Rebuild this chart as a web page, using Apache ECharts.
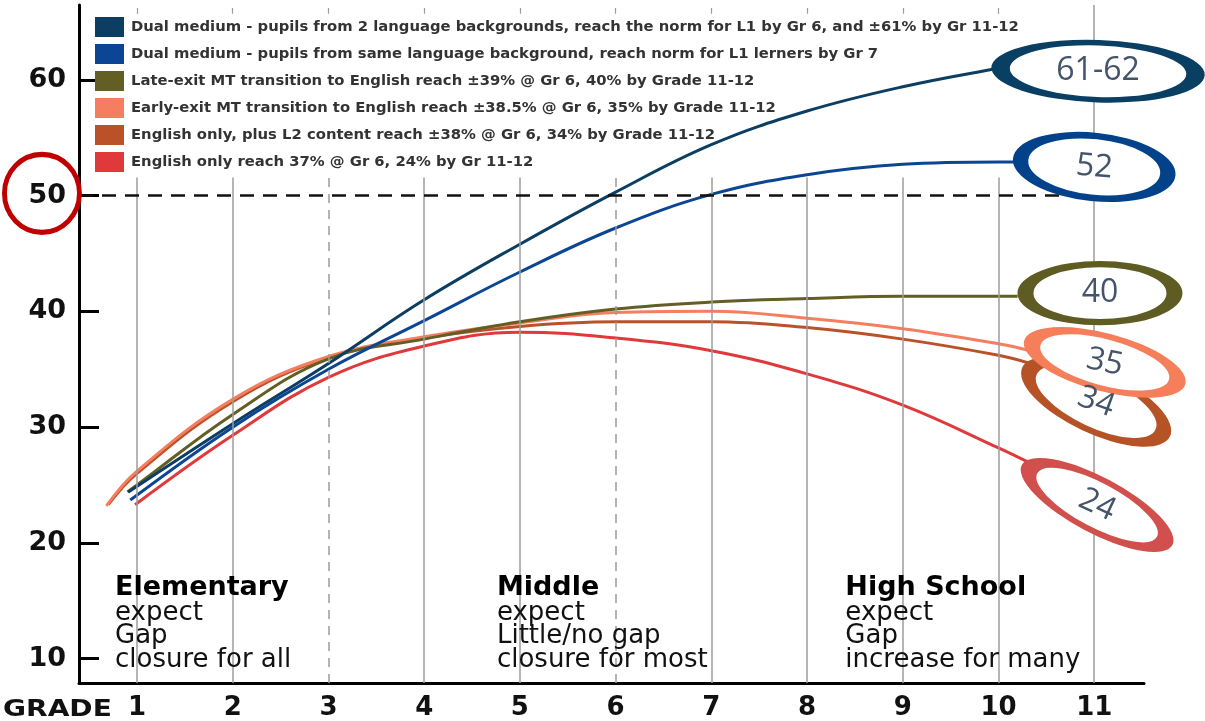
<!DOCTYPE html>
<html>
<head>
<meta charset="utf-8">
<script src="https://cdn.jsdelivr.net/npm/echarts@6/dist/echarts.min.js"></script>
<style>
html,body{margin:0;padding:0;background:#ffffff;}
#chart{width:1205px;height:721px;}
</style>
</head>
<body>
<div id="chart"></div>
<script>
// ---------- data ----------
const seriesNames = [
  'Dual medium - pupils from 2 language backgrounds, reach the norm for L1 by Gr 6, and \u00b161% by Gr 11-12',
  'Dual medium - pupils from same language background, reach norm for L1 lerners by Gr 7',
  'Late-exit MT transition to English reach \u00b139% @ Gr 6, 40% by Grade 11-12',
  'Early-exit MT transition to English reach \u00b138.5% @ Gr 6, 35% by Grade 11-12',
  'English only, plus L2 content reach \u00b138% @ Gr 6, 34% by Grade 11-12',
  'English only reach 37% @ Gr 6, 24% by Gr 11-12'
];
const dualTwoLang = [[0.91,24.4],[2,30.3],[3,35.5],[4,41.0],[5,45.8],[6,50.3],[7,54.4],[8,57.3],[9,59.4],[10,61.0],[10.1,61.1]];
const dualSameLang = [[0.93,23.7],[2,30.0],[3,35.0],[4,39.2],[5,43.4],[6,47.2],[7,50.1],[8,51.8],[9,52.7],[10,52.9],[10.17,52.9]];
const lateExit = [[0.9,24.4],[1,25.0],[2,31.1],[3,35.9],[4,37.6],[5,39.1],[6,40.2],[7,40.8],[8,41.1],[9,41.3],[10,41.3],[10.2,41.3]];
const earlyExit = [[0.68,23.2],[1,26.2],[2,32.4],[3,36.1],[4,37.8],[5,39.0],[6,39.9],[7,40.0],[8,39.4],[9,38.5],[10,37.2],[10.33,36.6]];
const englishPlusL2 = [[0.7,23.3],[1,26.0],[2,32.2],[3,36.0],[4,37.7],[5,38.7],[6,39.1],[7,39.1],[8,38.6],[9,37.6],[10,36.2],[10.33,35.5]];
const englishOnly = [[0.98,23.3],[2,29.3],[3,34.3],[4,37.0],[5,38.2],[6,37.7],[7,36.6],[8,34.6],[9,31.9],[10,28.2],[10.4,26.6]];

const gradeTicks = [1,2,3,4,5,6,7,8,9,10,11];
const dashedGrades = [3,6];
const yTicks = [10,20,30,40,50,60];
const normLevel = 50;

const calloutText = ['61-62','52','40','34','35','24'];
const calloutAnchor = [[11.04,60.74],[11.0,52.47],[11.06,41.57],[11.02,32.18],[11.11,35.59],[11.03,23.27]];
const normCircleAnchor = [0.007,50.19];

const bandTitles = ['Elementary','Middle','High School'];
const bandLines = [
  ['expect','Gap','closure for all'],
  ['expect','Little/no gap','closure for most'],
  ['expect','Gap','increase for many']
];
const bandAnchor = [[0.77,17.2],[4.76,17.2],[8.40,17.2]];

// ---------- styles ----------
const X_MIN = 0.394, X_MAX = 11.52, Y_MIN = 7.9, Y_MAX = 66.46;
const LINE_TOP = 51.57;
const lineColors = ['#0b3e62','#0c4594','#625e24','#f47e5f','#bb5128','#e0393b'];
const seriesData = [dualTwoLang, dualSameLang, lateExit, earlyExit, englishPlusL2, englishOnly];
const calloutStyle = [
  {size:[195,57], rot:-2,  color:'#083f63', trot:0},
  {size:[148,62], rot:-6,  color:'#02428a', trot:-5},
  {size:[149,58], rot:0,   color:'#5e5c22', trot:0},
  {size:[147,57], rot:-25, color:'#b55326', trot:-20},
  {size:[150,52], rot:-15, color:'#f47f5a', trot:-12},
  {size:[153,50], rot:-28, color:'#d1504d', trot:-25}
];

const gridMarks = [];
gradeTicks.forEach(g => {
  const dashed = dashedGrades.indexOf(g) >= 0;
  const ls = {color:'#9c9c9c', width:1.5, type: dashed ? [9,7] : 'solid'};
  gridMarks.push([{coord:[g, Y_MIN], lineStyle: ls}, {coord:[g, g === 11 ? Y_MAX : LINE_TOP]}]);
  if (g !== 11) {
    gridMarks.push([{coord:[g, 66.2], lineStyle: {color:'#9c9c9c', width:1.2, type:'solid'}}, {coord:[g, 65.7]}]);
  }
});
gridMarks.push({yAxis: normLevel, lineStyle:{color:'#111', width:2.5, type:[14,9]}});

const lineSeries = seriesNames.map((name, i) => ({
  name: name,
  type: 'line',
  data: seriesData[i],
  smooth: 0.4,
  symbol: 'none',
  color: lineColors[i],
  lineStyle: {width: 3, color: lineColors[i]},
  z: 3,
  silent: true
}));

const calloutSeries = {
  type: 'scatter',
  name: 'callouts',
  clip: false,
  silent: true,
  z: 10,
  data: calloutText.map((t, i) => ({
    value: calloutAnchor[i],
    symbol: 'circle',
    symbolSize: calloutStyle[i].size,
    symbolRotate: calloutStyle[i].rot,
    itemStyle: {color:'#ffffff', borderColor: calloutStyle[i].color, borderWidth: 10, opacity: 1},
    label: {
      show: true, position: 'inside', formatter: t, rotate: calloutStyle[i].trot,
      color: '#44546a', fontFamily: 'Open Sans', fontSize: 32, opacity: 1
    }
  }))
};

const normCircle = {
  type: 'scatter',
  name: 'normcircle',
  clip: false,
  silent: true,
  z: 11,
  data: [{
    value: normCircleAnchor,
    symbol: 'circle',
    symbolSize: [75, 78],
    itemStyle: {color:'rgba(255,255,255,0)', borderColor:'#c00000', borderWidth:5, opacity: 1}
  }]
};

const bandSeries = {
  type: 'scatter',
  name: 'bands',
  clip: false,
  silent: true,
  z: 6,
  symbolSize: 0,
  itemStyle: {opacity: 1},
  data: bandTitles.map((t, i) => ({
    value: bandAnchor[i],
    label: {
      show: true,
      position: [0, 0],
      align: 'left',
      verticalAlign: 'top',
      opacity: 1,
      formatter: '{t|' + t + '}\n' + bandLines[i].map(s => '{n|' + s + '}').join('\n'),
      rich: {
        t: {fontFamily:'DejaVu Sans', fontWeight:'bold', fontSize:27, lineHeight:26, color:'#000'},
        n: {fontFamily:'DejaVu Sans', fontSize:26, lineHeight:23.5, color:'#111'}
      }
    }
  }))
};

const gridSeries = {
  type: 'line',
  name: 'gridlines',
  data: [],
  silent: true,
  z: 1,
  markLine: {silent: true, symbol: 'none', label: {show: false}, animation: false, data: gridMarks}
};

const chart = echarts.init(document.getElementById('chart'));
chart.setOption({
  animation: false,
  backgroundColor: '#ffffff',
  grid: {left: 79, right: 61, top: 5, bottom: 36},
  legend: {
    data: seriesNames,
    orient: 'vertical',
    left: 90, top: 12,
    icon: 'rect',
    itemWidth: 29, itemHeight: 20, itemGap: 7,
    selectedMode: false,
    textStyle: {fontFamily:'DejaVu Sans', fontWeight:'bold', fontSize:14.8, color:'#333', padding:[0,0,0,2]}
  },
  xAxis: {
    type: 'value', min: X_MIN, max: X_MAX,
    splitLine: {show: false},
    axisTick: {show: false},
    axisLine: {show: true, lineStyle: {color:'#000', width: 3}},
    axisLabel: {
      customValues: gradeTicks, margin: 12,
      fontFamily:'DejaVu Sans', fontWeight:'bold', fontSize:26, color:'#111',
      formatter: v => String(v)
    }
  },
  yAxis: {
    type: 'value', min: Y_MIN, max: Y_MAX,
    splitLine: {show: false},
    axisLine: {show: true, lineStyle: {color:'#000', width: 3}},
    axisTick: {show: true, inside: true, length: 20, customValues: yTicks, lineStyle: {color:'#000', width: 3}},
    axisLabel: {
      customValues: yTicks, margin: 13,
      fontFamily:'DejaVu Sans', fontWeight:'bold', fontSize:27, color:'#111',
      formatter: v => String(v)
    }
  },
  graphic: [{
    type: 'text', x: 3, y: 710, scaleX: 1.22, z: 20,
    style: {text: 'GRADE', fontFamily:'DejaVu Sans', fontWeight:'bold', fontSize:23, fill:'#111', verticalAlign:'middle'}
  }],
  series: [gridSeries].concat(lineSeries.slice().reverse(), [bandSeries, calloutSeries, normCircle])
});
</script>
</body>
</html>
